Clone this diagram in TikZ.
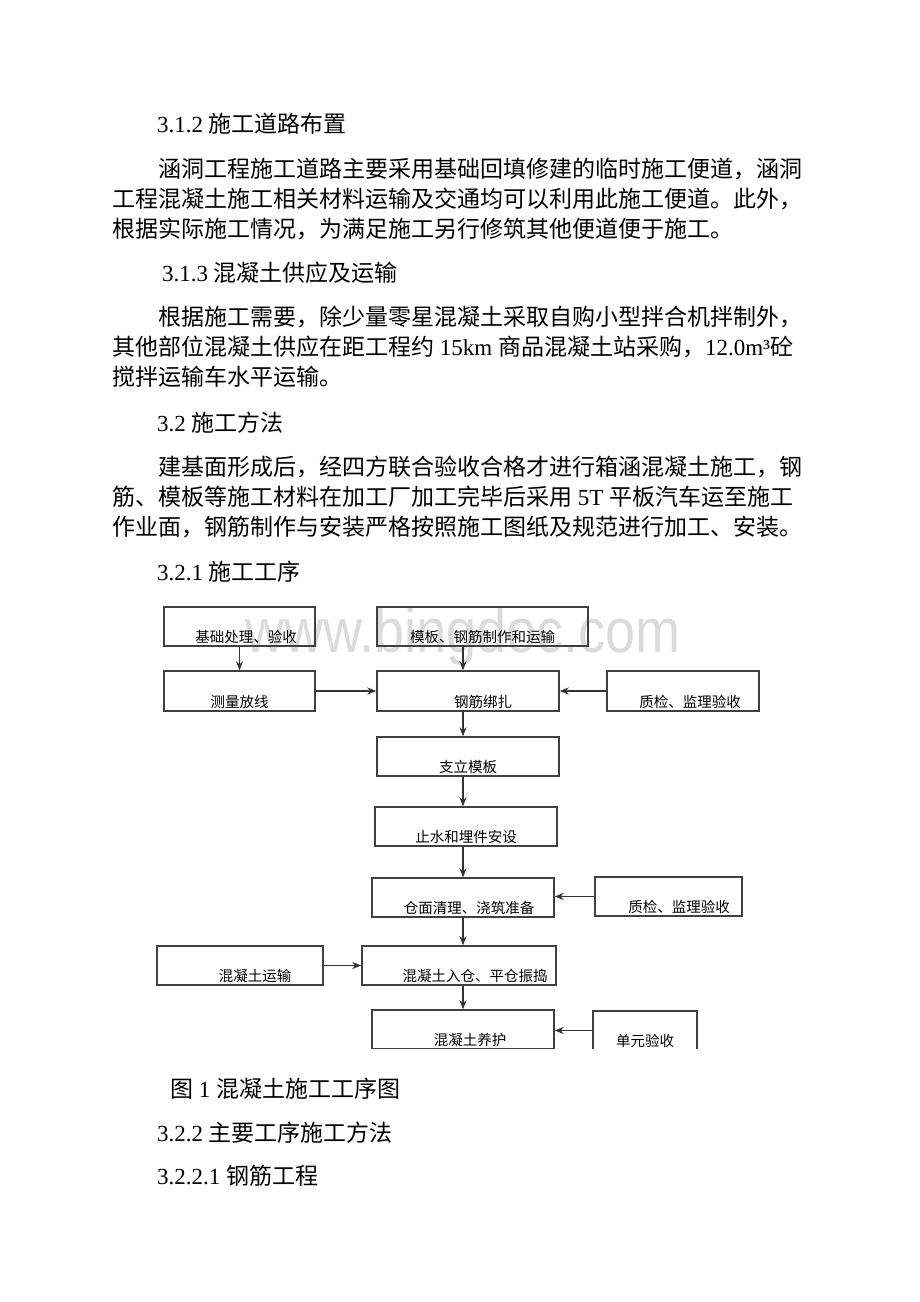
\documentclass[tikz,border=0pt]{standalone}
\usepackage{fontspec}
\setmainfont{Liberation Serif}
\newfontfamily\cjk{Noto Sans CJK SC}
\newfontfamily\wmfont{Liberation Sans}
\usetikzlibrary{arrows.meta,positioning}
\def\fl#1#2{\hbox to #1{#2}}
\def\arr{\draw[flow]}
\tikzset{
  body/.style={anchor=base west,inner sep=0pt,font=\fontsize{23}{28}\selectfont},
  box/.style={draw=black!75,line width=1.4pt,inner xsep=0pt,inner ysep=0pt,
    text height=35pt,text depth=4pt,font=\cjk\fontsize{14.5}{15}\selectfont},
  flow/.style={draw=black!80,line width=1.3pt,-{Stealth[length=9pt,width=7pt]}},
  wmark/.style={anchor=base west,inner sep=0pt,text=black!14,yscale=1.15,
    font=\wmfont\fontsize{54}{54}\selectfont}
}
\begin{document}
\begin{tikzpicture}[x=1pt,y=-1pt]
\fill[white] (0,0) rectangle (920,1302);
\useasboundingbox (0,0) rectangle (920,1302);

\node[body] (h312) at (157,132) {3.1.2 {\cjk 施工道路布置}};
\node[body] (p1a) at (158,177) {\fl{645pt}{\cjk 涵洞工程施工道路主要采用基础回填修建的临时施工便道，涵洞}};
\node[body] (p1b) at (112,207) {\fl{691pt}{\cjk 工程混凝土施工相关材料运输及交通均可以利用此施工便道。此外，}};
\node[body] (p1c) at (112,237) {\cjk 根据实际施工情况，为满足施工另行修筑其他便道便于施工。};
\node[body] (h313) at (162,281) {3.1.3 {\cjk 混凝土供应及运输}};
\node[body] (p2a) at (158,325) {\fl{645pt}{\cjk 根据施工需要，除少量零星混凝土采取自购小型拌合机拌制外，}};
\node[body] (p2b) at (112,355) {{\cjk 其他部位混凝土供应在距工程约} 15km {\cjk 商品混凝土站采购，}12.0m³{\cjk 砼}};
\node[body] (p2c) at (112,385) {\cjk 搅拌运输车水平运输。};
\node[body] (h32) at (157,431) {3.2 {\cjk 施工方法}};
\node[body] (p3a) at (158,475) {\fl{645pt}{\cjk 建基面形成后，经四方联合验收合格才进行箱涵混凝土施工，钢}};
\node[body] (p3b) at (112,505) {{\cjk 筋、模板等施工材料在加工厂加工完毕后采用} 5T {\cjk 平板汽车运至施工}};
\node[body] (p3c) at (112,535) {\fl{691pt}{\cjk 作业面，钢筋制作与安装严格按照施工图纸及规范进行加工、安装。}};
\node[body] (h321) at (157,580) {3.2.1 {\cjk 施工工序}};

\node[wmark] (mark) at (245,652) {www.bingdoc.com};

\begin{scope}
\clip (0,0) rectangle (920,1048.5);
\node[box,minimum width=151] (base) at (239.5,626.5) {\hspace*{13pt}基础处理、验收};
\node[box,minimum width=211] (form) at (482.5,626.5) {模板、钢筋制作和运输};
\node[box,minimum width=151,text height=36pt] (survey) at (239.5,691) {测量放线};
\node[box,minimum width=182,text height=36pt] (bind) at (468,691) {\hspace*{30pt}钢筋绑扎};
\node[box,minimum width=152,text height=36pt] (qcA) at (683,691) {\hspace*{14pt}质检、监理验收};
\node[box,minimum width=182] (erect) at (468,756.5) {支立模板};
\node[box,minimum width=182] (stop) at (466,826.5) {止水和埋件安设};
\node[box,minimum width=182] (clean) at (463,897.5) {\hspace*{12pt}仓面清理、浇筑准备};
\node[box,minimum width=147] (qcB) at (668.5,896.5) {\hspace*{21pt}质检、监理验收};
\node[box,minimum width=166] (haul) at (240,965.5) {\hspace*{30pt}混凝土运输};
\node[box,minimum width=194] (pour) at (459,965.5) {\hspace*{32pt}混凝土入仓、平仓振捣};
\node[box,minimum width=182] (cure) at (463,1029.5) {\hspace*{14pt}混凝土养护};
\node[box,minimum width=104] (unit) at (645,1030.5) {单元验收};
\coordinate (spine) at (463,0);

\arr (base) -- (survey);
\arr (survey) -- (bind);
\arr (spine |- form.south) -- (spine |- bind.north);
\arr (qcA) -- (bind);
\arr (spine |- bind.south) -- (spine |- erect.north);
\arr (spine |- erect.south) -- (spine |- stop.north);
\arr (spine |- stop.south) -- (spine |- clean.north);
\arr (qcB.west) -- (qcB.west -| clean.east);
\arr (spine |- clean.south) -- (spine |- pour.north);
\arr (haul) -- (pour);
\arr (spine |- pour.south) -- (spine |- cure.north);
\arr (unit.west) -- (unit.west -| cure.east);
\end{scope}

\node[body] (cap) at (170,1097) {{\cjk 图} 1 {\cjk 混凝土施工工序图}};
\node[body] (h322) at (157,1141) {3.2.2 {\cjk 主要工序施工方法}};
\node[body] (h3221) at (157,1184) {3.2.2.1 {\cjk 钢筋工程}};
\end{tikzpicture}
\end{document}
